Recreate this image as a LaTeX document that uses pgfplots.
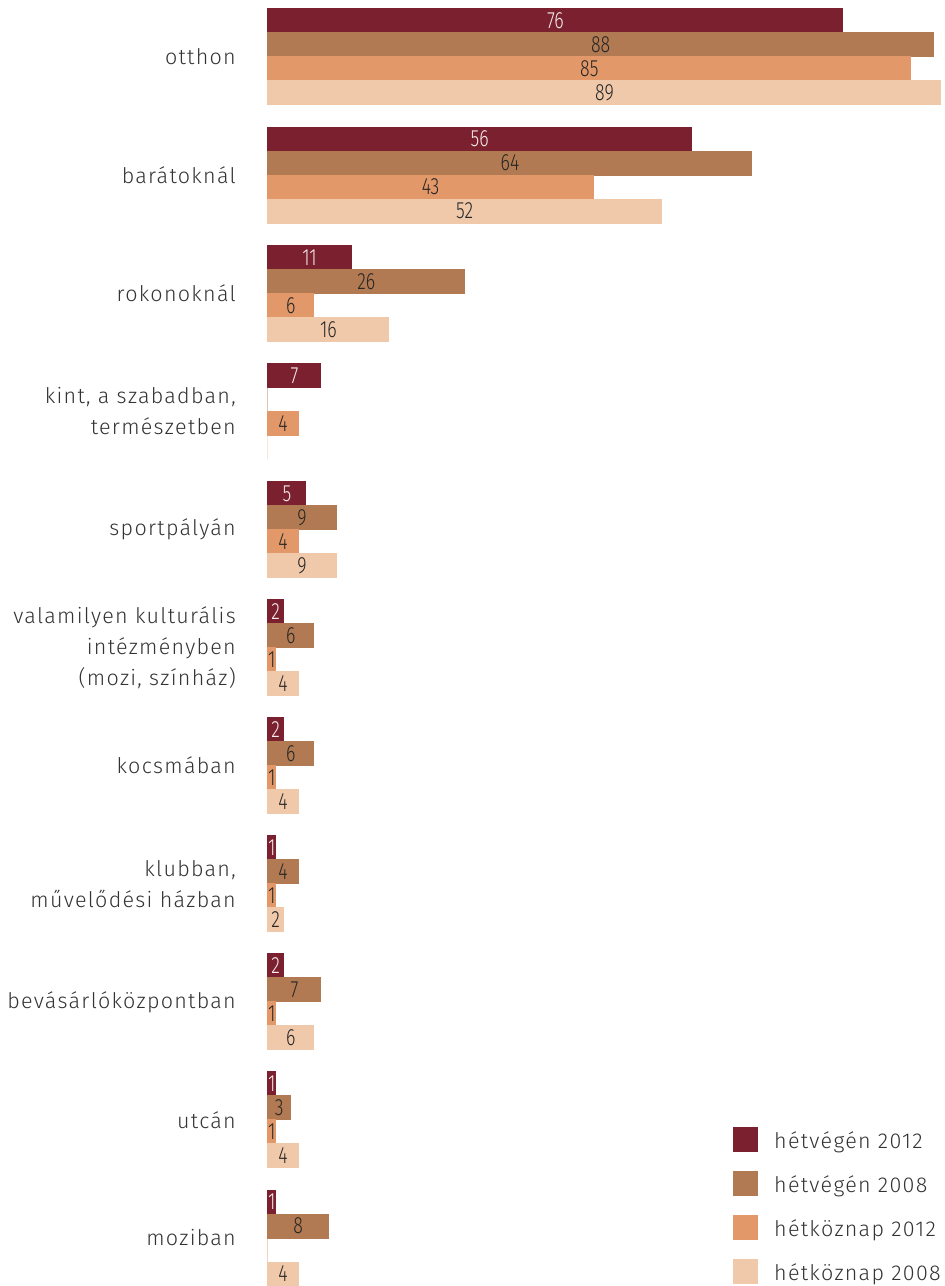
\documentclass[border=0pt]{standalone}
\usepackage{fontspec}
\setmainfont{Fira Sans Light}[LetterSpace=6]
\newfontfamily\numfont{Fira Sans Light}[FakeStretch=0.76]
\usepackage{pgfplots}
\pgfplotsset{compat=1.18}
\usepackage{pgfplotstable}
\definecolor{cA}{RGB}{123,32,46}
\definecolor{cB}{RGB}{178,122,82}
\definecolor{cC}{RGB}{226,152,104}
\definecolor{cD}{RGB}{240,201,171}
\definecolor{txt}{RGB}{51,51,51}
\pgfplotstableread{
y a b c d
10 76 88 85 89
9 56 64 43 52
8 11 26 6 16
7 7 0 4 0
6 5 9 4 9
5 2 6 1 4
4 2 6 1 4
3 1 4 1 2
2 2 7 1 6
1 1 3 1 4
0 1 8 0 4
}\data
\begin{document}
\begin{tikzpicture}
\begin{axis}[at={(0,0)}, anchor=south west, scale only axis,
  width=673bp, height=1286bp, xmin=0, xmax=89, ymin=-0.4064, ymax=10.4826,
  /pgf/number format/assume math mode=true,
  bar width=24bp, axis line style={draw=none}, xtick=\empty,
  ytick={0,...,10}, major tick length=0pt, clip=false,
  yticklabels={moziban,utcán,bevásárlóközpontban,{klubban,\\művelődési házban},kocsmában,{valamilyen kulturális\\intézményben\\(mozi, színház)},sportpályán,{kint, a szabadban,\\természetben},rokonoknál,barátoknál,otthon},
  yticklabel style={align=right, font=\fontsize{21.5bp}{31bp}\selectfont, text=txt, inner sep=0pt, xshift=-32bp},
  legend style={at={(axis description cs:0.6909,0)}, anchor=south west, draw=none, fill=none, inner sep=0pt, row sep=17.7bp, font=\fontsize{21.5bp}{25bp}\selectfont, text=txt, legend cell align=left,
    nodes={inner sep=0pt, text height=17bp, text depth=5bp},
    /tikz/every odd column/.append style={column sep=16bp}},
  legend image code/.code={\fill[#1] (0bp,-9bp) rectangle (24bp,15bp);},
  every node near coord/.style={anchor=center, font=\numfont\fontsize{23.5bp}{24bp}\selectfont, text=black!85},
]
\addplot[xbar, fill=cA, draw=cA, line width=1bp, bar shift=36bp] table[x=a, y=y] {\data};
\addlegendentry{hétvégén 2012}
\addplot[xbar, fill=cB, draw=cB, line width=1bp, bar shift=12bp] table[x=b, y=y] {\data};
\addlegendentry{hétvégén 2008}
\addplot[xbar, fill=cC, draw=cC, line width=1bp, bar shift=-12bp] table[x=c, y=y] {\data};
\addlegendentry{hétköznap 2012}
\addplot[xbar, fill=cD, draw=cD, line width=1bp, bar shift=-36bp] table[x=d, y=y] {\data};
\addlegendentry{hétköznap 2008}
\addplot[xbar, draw=none, fill=none, bar shift=0bp, forget plot, x filter/.expression={x==0?nan:x}, nodes near coords, point meta=explicit, every node near coord/.append style={text=white!92!cA, yshift=36bp}] table[x expr=\thisrow{a}/2, y=y, meta=a] {\data};
\addplot[xbar, draw=none, fill=none, bar shift=0bp, forget plot, x filter/.expression={x==0?nan:x}, nodes near coords, point meta=explicit, every node near coord/.append style={yshift=12bp}] table[x expr=\thisrow{b}/2, y=y, meta=b] {\data};
\addplot[xbar, draw=none, fill=none, bar shift=0bp, forget plot, x filter/.expression={x==0?nan:x}, nodes near coords, point meta=explicit, every node near coord/.append style={yshift=-12bp}] table[x expr=\thisrow{c}/2, y=y, meta=c] {\data};
\addplot[xbar, draw=none, fill=none, bar shift=0bp, forget plot, x filter/.expression={x==0?nan:x}, nodes near coords, point meta=explicit, every node near coord/.append style={yshift=-36bp}] table[x expr=\thisrow{d}/2, y=y, meta=d] {\data};
\end{axis}
\pgfresetboundingbox
\path (-268bp,0bp) rectangle (677bp,1286bp);
\end{tikzpicture}
\end{document}
